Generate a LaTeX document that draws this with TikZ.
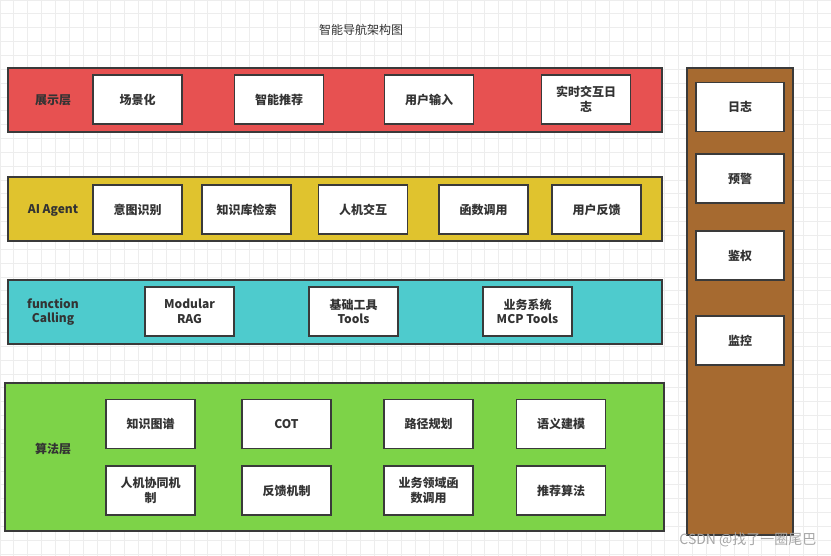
\documentclass[tikz,border=0pt]{standalone}
\usepackage{fontspec}
\setmainfont{Noto Sans CJK SC}
\definecolor{edge}{HTML}{3A3A3A}
\definecolor{txt}{HTML}{333333}
\definecolor{gridc}{HTML}{EDEDED}
\definecolor{cred}{HTML}{E75151}
\definecolor{cyel}{HTML}{E0C32E}
\definecolor{ccya}{HTML}{4ECBCD}
\definecolor{cgre}{HTML}{7DD348}
\definecolor{cbro}{HTML}{A66A30}
\begin{document}
\begin{tikzpicture}[x=1pt,y=-1pt,
  band/.style={draw=edge, line width=1.3pt, inner sep=0pt},
  box/.style={draw=edge, fill=white, line width=1.3pt, minimum width=89pt, minimum height=49pt,
    inner sep=0pt, font=\bfseries\fontsize{12}{14.5}\selectfont, text=txt, align=center},
  sidebox/.style={box, minimum width=88pt},
  lbl/.style={font=\bfseries\fontsize{12}{14.5}\selectfont, text=txt, align=center}]
\useasboundingbox (0,0) rectangle (831,556);
\fill[white] (0,0) rectangle (831,556);
\foreach \i in {0,...,60} {
  \draw[gridc, line width=0.8pt] (\i*13.85,0) -- (\i*13.85,556);
}
\foreach \j in {0,...,40} {
  \draw[gridc, line width=0.8pt] (0,\j*13.85) -- (831,\j*13.85);
}
% title
\node[font=\fontsize{12}{14}\selectfont, text=txt] (title) at (361,30) {智能导航架构图};
% bands
\node[band, fill=cred, minimum width=654pt, minimum height=64pt] (redband) at (335,100) {};
\node[band, fill=cyel, minimum width=654pt, minimum height=64pt] (yelband) at (335,209) {};
\node[band, fill=ccya, minimum width=654pt, minimum height=64pt] (cyaband) at (335,312) {};
\node[band, fill=cgre, minimum width=659pt, minimum height=148pt] (greband) at (334.5,457) {};
\node[band, fill=cbro, minimum width=106pt, minimum height=467pt] (broband) at (740,301.5) {};
% labels
\node[lbl] (l1) at (53,100) {展示层};
\node[lbl] (l2) at (53,210) {AI Agent};
\node[lbl] (l3) at (53,312) {function\\Calling};
\node[lbl] (l4) at (53,449) {算法层};
% red row
\node[box] (r1) at (137.5,99.5) {场景化};
\node[box] (r2) at (279,99.5) {智能推荐};
\node[box] (r3) at (429,99.5) {用户输入};
\node[box] (r4) at (586,99.5) {实时交互日\\志};
% yellow row
\node[box] (y1) at (137.5,209.5) {意图识别};
\node[box] (y2) at (246.5,209.5) {知识库检索};
\node[box] (y3) at (363,209.5) {人机交互};
\node[box] (y4) at (483.5,209.5) {函数调用};
\node[box] (y5) at (596.5,209.5) {用户反馈};
% cyan row
\node[box] (c1) at (189.5,311.5) {Modular\\RAG};
\node[box] (c2) at (353.5,311.5) {基础工具\\Tools};
\node[box] (c3) at (527.5,311.5) {业务系统\\MCP Tools};
% green rows
\node[box] (g1) at (150.5,424) {知识图谱};
\node[box] (g2) at (286.5,424) {COT};
\node[box] (g3) at (428.5,424) {路径规划};
\node[box] (g4) at (561,424) {语义建模};
\node[box] (g5) at (150.5,490.5) {人机协同机\\制};
\node[box] (g6) at (286.5,490.5) {反馈机制};
\node[box] (g7) at (428.5,490.5) {业务领域函\\数调用};
\node[box] (g8) at (561,490.5) {推荐算法};
% side column
\node[sidebox] (s1) at (740,107) {日志};
\node[sidebox] (s2) at (740,178.5) {预警};
\node[sidebox] (s3) at (740,255.5) {鉴权};
\node[sidebox] (s4) at (740,340.5) {监控};
% watermark
\node[font=\fontsize{14}{16}\selectfont, text=black!35, anchor=east] (wm) at (820,540) {CSDN @找了一圈尾巴};
\end{tikzpicture}
\end{document}
